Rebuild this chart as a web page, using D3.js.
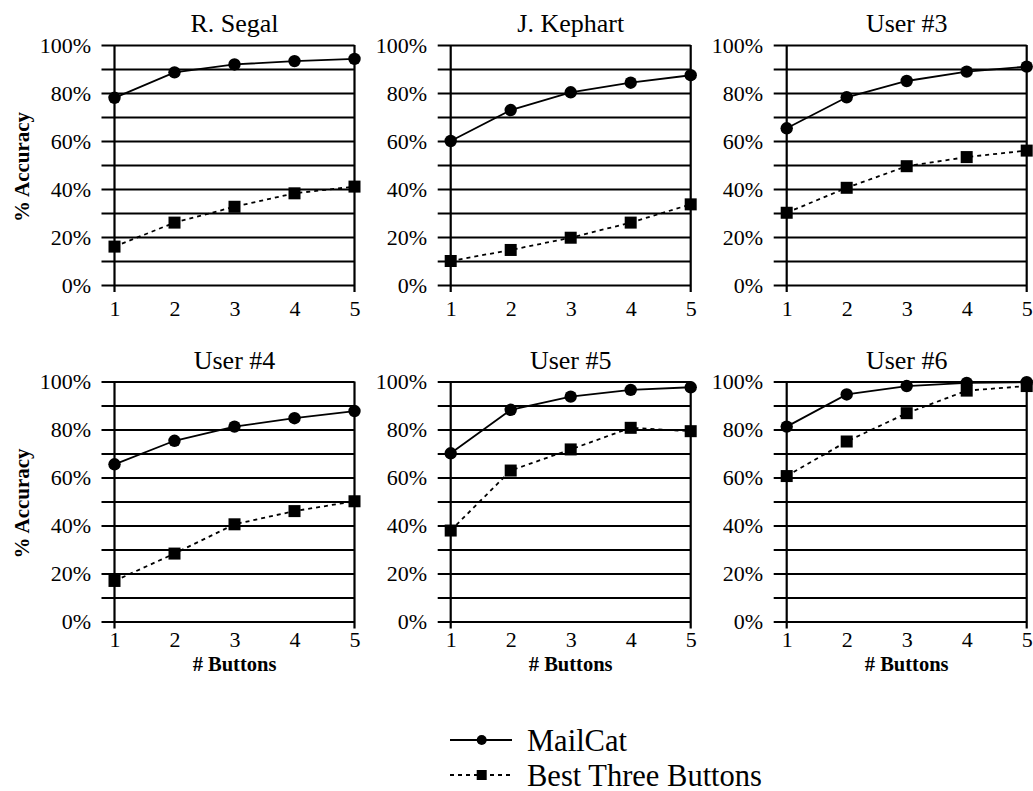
<!DOCTYPE html>
<html>
<head>
<meta charset="utf-8">
<script src="https://cdn.jsdelivr.net/npm/d3@7"></script>
<style>
  html, body { margin: 0; padding: 0; background: #fff; }
  svg { display: block; }
  svg text { font-family: 'Liberation Serif', 'DejaVu Serif', serif !important; fill: #000; }
</style>
</head>
<body>
<svg id="chart" width="1033" height="791"></svg>
<script>
// ---- Data ----
const panelTitles = ["R. Segal", "J. Kephart", "User #3", "User #4", "User #5", "User #6"];
const buttons = [1, 2, 3, 4, 5];
const mailCat = [
  [78.0, 88.6, 91.9, 93.3, 94.2],
  [60.0, 72.9, 80.3, 84.3, 87.4],
  [65.3, 78.2, 85.0, 88.9, 91.0],
  [65.5, 75.3, 81.2, 84.7, 87.7],
  [70.1, 88.2, 93.7, 96.5, 97.6],
  [81.2, 94.6, 98.1, 99.4, 99.7]
];
const bestThree = [
  [16.0, 26.0, 32.6, 38.2, 41.0],
  [10.0, 14.6, 19.7, 26.0, 33.6],
  [30.1, 40.5, 49.5, 53.3, 56.0],
  [16.9, 28.3, 40.5, 46.0, 50.1],
  [37.9, 62.9, 71.7, 80.7, 79.3],
  [60.6, 75.0, 86.8, 96.2, 98.1]
];
const gridValues = [0, 10, 20, 30, 40, 50, 60, 70, 80, 90, 100];
const yTickLabels = ["0%", "", "20%", "", "40%", "", "60%", "", "80%", "", "100%"];
const seriesNames = ["MailCat", "Best Three Buttons"];
const yAxisTitle = "% Accuracy";
const xAxisTitle = "# Buttons";

// ---- Layout ----
const FONT = "'Liberation Serif', 'DejaVu Serif', serif";
const svg = d3.select("#chart");
const colLeft = [114.5, 450.7, 786.7];
const rowTop = [45, 381.5];
const pw = 240, ph = 240;
const tickOut = 13;

panelTitles.forEach((title, i) => {
  const col = i % 3, row = Math.floor(i / 3);
  const g = svg.append("g").attr("transform", `translate(${colLeft[col]},${rowTop[row]})`);
  const x = d3.scaleLinear().domain([1, 5]).range([0, pw]);
  const y = d3.scaleLinear().domain([0, 100]).range([ph, 0]);

  // y axis with gridlines
  const yAxis = d3.axisLeft(y)
    .tickValues(gridValues)
    .tickSize(-(pw + tickOut))
    .tickPadding(10.5)
    .tickFormat(d => yTickLabels[gridValues.indexOf(d)]);
  const ya = g.append("g").attr("transform", `translate(${-tickOut},0)`).call(yAxis)
    .attr("font-family", FONT).attr("font-size", 22);
  ya.select(".domain").remove();
  ya.selectAll(".tick line").attr("stroke", "#000").attr("stroke-width", 2);
  ya.selectAll(".tick text").style("font-family", FONT).style("font-size", "22px");

  // vertical axis lines at x=1 and x=5
  [1, 5].forEach(v => {
    g.append("line")
      .attr("x1", x(v)).attr("x2", x(v))
      .attr("y1", y(100)).attr("y2", y(0) + 7)
      .attr("stroke", "#000").attr("stroke-width", 2.2);
  });

  // x axis labels
  const xAxis = d3.axisBottom(x).tickValues(buttons).tickSize(0).tickFormat(d3.format("d"));
  const xa = g.append("g").attr("transform", `translate(0,${ph})`).call(xAxis)
    .attr("font-family", FONT).attr("font-size", 22);
  xa.select(".domain").remove();
  xa.selectAll(".tick text").attr("dy", null).attr("y", row === 0 ? 31 : 25.5)
    .style("font-family", FONT).style("font-size", "22px");

  // title
  g.append("text").attr("x", pw / 2).attr("y", -13)
    .attr("text-anchor", "middle").style("font-family", FONT).style("font-size", "26px").text(title);

  // series
  const line = d3.line().x((d, k) => x(buttons[k])).y(d => y(d));
  g.append("path").datum(bestThree[i]).attr("d", line)
    .attr("fill", "none").attr("stroke", "#000").attr("stroke-width", 1.8)
    .attr("stroke-dasharray", "4,4");
  g.append("path").datum(mailCat[i]).attr("d", line)
    .attr("fill", "none").attr("stroke", "#000").attr("stroke-width", 1.8);

  g.selectAll(".sq").data(bestThree[i]).enter().append("rect")
    .attr("x", (d, k) => x(buttons[k]) - 6).attr("y", d => y(d) - 6)
    .attr("width", 12).attr("height", 12).attr("fill", "#000");
  g.selectAll(".ci").data(mailCat[i]).enter().append("circle")
    .attr("cx", (d, k) => x(buttons[k])).attr("cy", d => y(d))
    .attr("r", 6.2).attr("fill", "#000");

  // axis titles
  if (col === 0) {
    g.append("text")
      .attr("transform", `translate(${29 - colLeft[0]},${ph / 2 + 2}) rotate(-90)`)
      .attr("text-anchor", "middle").style("font-family", FONT).style("font-size", "21px")
      .style("font-weight", "bold")
      .text(yAxisTitle);
  }
  if (row === 1) {
    g.append("text").attr("x", pw / 2).attr("y", ph + 49.5)
      .attr("text-anchor", "middle").style("font-family", FONT).style("font-size", "20.5px")
      .style("font-weight", "bold")
      .text(xAxisTitle);
  }
});

// ---- Legend ----
const lg = svg.append("g");
const lx0 = 450, lx1 = 512, lmx = 481.7;
const legendRows = [{ y: 740, dash: null }, { y: 775, dash: "4,4" }];
legendRows.forEach((r, k) => {
  lg.append("line").attr("x1", lx0).attr("x2", lx1).attr("y1", r.y).attr("y2", r.y)
    .attr("stroke", "#000").attr("stroke-width", 2)
    .attr("stroke-dasharray", r.dash);
  if (k === 0) {
    lg.append("circle").attr("cx", lmx).attr("cy", r.y).attr("r", 5).attr("fill", "#000");
  } else {
    lg.append("rect").attr("x", lmx - 5).attr("y", r.y - 5).attr("width", 10).attr("height", 10).attr("fill", "#000");
  }
  lg.append("text").attr("x", 527).attr("y", r.y + 10.5)
    .style("font-family", FONT).style("font-size", "30.5px").text(seriesNames[k]);
});
</script>
</body>
</html>
